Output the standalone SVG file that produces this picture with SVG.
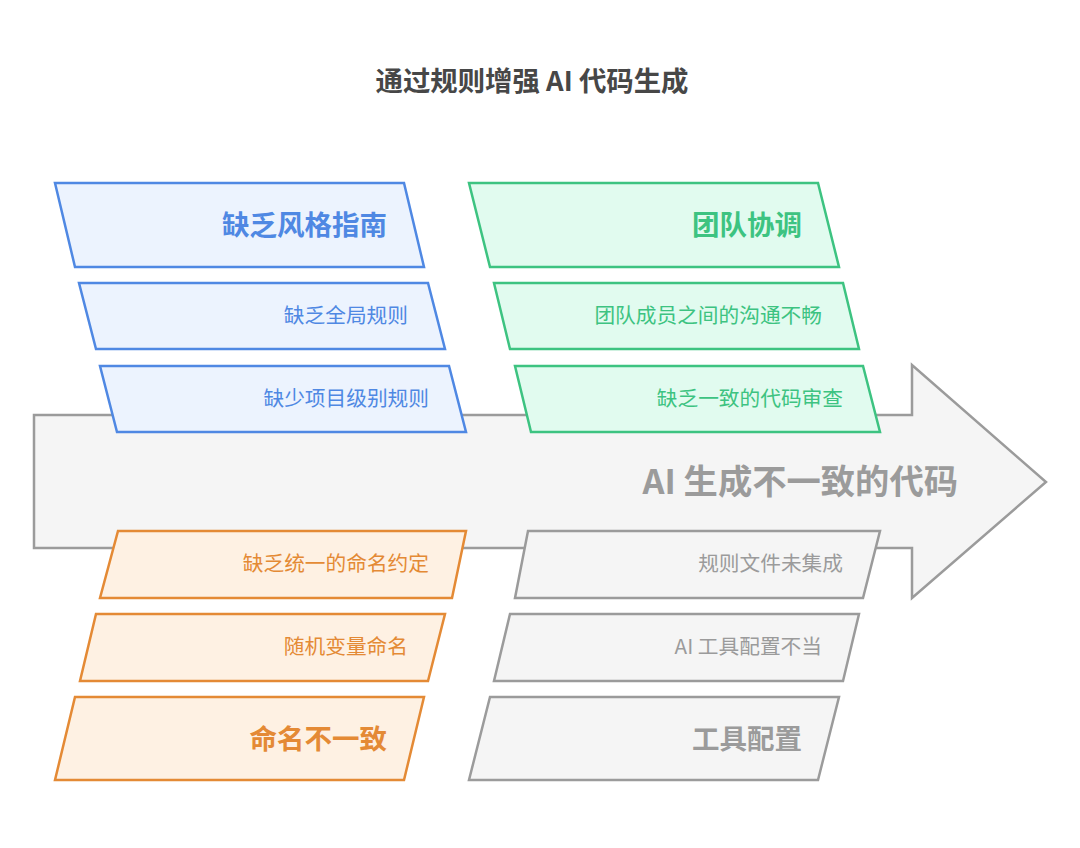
<svg xmlns="http://www.w3.org/2000/svg" width="1080" height="848" viewBox="0 0 1080 848">
<style>
text{font-family:"Noto Sans CJK SC","Noto Sans",sans-serif;}
.t{font-size:20.7px;text-anchor:end;}
.h{font-size:27.5px;font-weight:bold;text-anchor:end;}
.sh{stroke-width:2.5;stroke-linejoin:miter;}
.blue{fill:#ecf3fe;stroke:#4f88e3;}
.green{fill:#e1fbef;stroke:#3dc381;}
.orange{fill:#fef1e3;stroke:#e48a35;}
.gray{fill:#f5f5f5;stroke:#9b9b9b;}
.tb{fill:#4f88e3;}
.tg{fill:#3dc381;}
.to{fill:#e48a35;}
.tgr{fill:#9b9b9b;}
</style>
<rect width="1080" height="848" fill="#ffffff"/>
<text x="532" y="91" font-size="27.4" font-weight="bold" fill="#474747" text-anchor="middle">通过规则增强 AI 代码生成</text>
<g id="main-arrow">
<path class="sh gray" d="M34,415 L912,415 L912,365 L1046,482 L912,598 L912,548 L34,548 Z"/>
<text x="958" y="494" font-size="34.3" font-weight="bold" fill="#9b9b9b" text-anchor="end">AI 生成不一致的代码</text>
</g>
<g id="style-guide">
<path class="sh blue" d="M55,183 L404,183 L424,267 L75,267 Z"/>
<text class="h tb" x="387" y="235">缺乏风格指南</text>
</g>
<g id="global-rules">
<path class="sh blue" d="M79,283 L428,283 L445,349 L96,349 Z"/>
<text class="t tb" x="408" y="323">缺乏全局规则</text>
</g>
<g id="project-rules">
<path class="sh blue" d="M100,366 L449,366 L466,432 L117,432 Z"/>
<text class="t tb" x="429" y="406">缺少项目级别规则</text>
</g>
<g id="team-coordination">
<path class="sh green" d="M469,183 L818,183 L839,267 L490,267 Z"/>
<text class="h tg" x="802" y="235">团队协调</text>
</g>
<g id="communication">
<path class="sh green" d="M494,283 L843,283 L859,349 L510,349 Z"/>
<text class="t tg" x="822" y="323">团队成员之间的沟通不畅</text>
</g>
<g id="code-review">
<path class="sh green" d="M515,366 L863,366 L880,432 L531,432 Z"/>
<text class="t tg" x="843" y="406">缺乏一致的代码审查</text>
</g>
<g id="naming-convention">
<path class="sh orange" d="M118,531 L466,531 L452,598 L100,598 Z"/>
<text class="t to" x="429" y="571">缺乏统一的命名约定</text>
</g>
<g id="random-naming">
<path class="sh orange" d="M96,614 L445,614 L428,681 L80,681 Z"/>
<text class="t to" x="408" y="654">随机变量命名</text>
</g>
<g id="naming-inconsistent">
<path class="sh orange" d="M75,697 L424,697 L404,780 L55,780 Z"/>
<text class="h to" x="387" y="749">命名不一致</text>
</g>
<g id="rules-not-integrated">
<path class="sh gray" d="M528,531 L880,531 L863,598 L515,598 Z"/>
<text class="t tgr" x="843" y="571">规则文件未集成</text>
</g>
<g id="tool-misconfig">
<path class="sh gray" d="M510,614 L859,614 L843,681 L494,681 Z"/>
<text class="t tgr" x="822" y="654">AI 工具配置不当</text>
</g>
<g id="tool-config">
<path class="sh gray" d="M490,697 L839,697 L818,780 L469,780 Z"/>
<text class="h tgr" x="802" y="749">工具配置</text>
</g>
<g id="connectors"></g>
</svg>
